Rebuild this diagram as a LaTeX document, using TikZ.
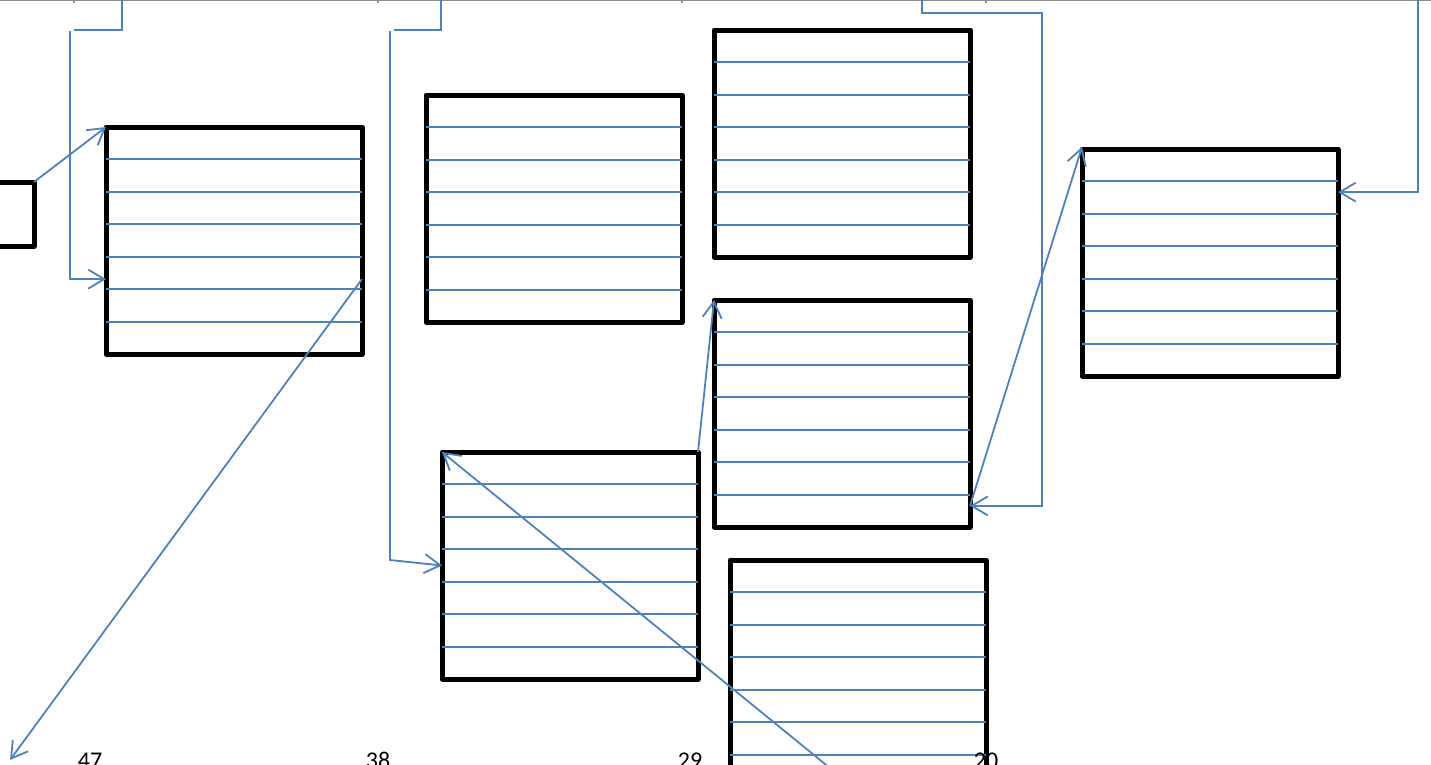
\documentclass[tikz,border=0pt]{standalone}
\usepackage{fontspec}
\setmainfont{Carlito}
\usetikzlibrary{arrows.meta, calc}
\definecolor{linkblue}{RGB}{79,129,189}
\definecolor{rulegray}{RGB}{140,140,140}

% six row lines inside a block
\newcommand{\rowlines}[1]{%
  \foreach \k in {1,...,6}
    \draw[rowline] ($(#1.north west)!\k/7!(#1.south west)$) --
                   ($(#1.north east)!\k/7!(#1.south east)$);}

\begin{document}
\begin{tikzpicture}[
  x=1pt, y=-1pt,
  block/.style={draw, line width=5pt, line join=round, inner sep=0pt,
                outer sep=0pt, anchor=north west,
                minimum width=256pt, minimum height=227pt},
  stub/.style={draw, line width=5pt, line join=round, inner sep=0pt,
               outer sep=0pt, anchor=north east,
               minimum width=64pt, minimum height=64pt},
  rowline/.style={linkblue, line width=2pt},
  wire/.style={linkblue, line width=1.8pt},
  conn/.style={wire, -{Straight Barb[length=16pt, width=19pt, line width=1.8pt]}},
  lbl/.style={font=\fontsize{24}{28}\selectfont, anchor=base}
]
  \useasboundingbox (0,0) rectangle (1431,764);
  \clip (0,0) rectangle (1431,764);

  % ruler on top
  \draw[rulegray, line width=1.5pt] (0,0.5) -- (1431,0.5);
  \foreach \t in {74,378,682,986}
    \draw[rulegray, line width=2pt] (\t,0) -- (\t,2.5);

  % blocks
  \node[stub]  (src)  at (34,182)   {};
  \node[block] (blkA) at (106,127)  {};
  \node[block] (blkB) at (426,95)   {};
  \node[block] (blkC) at (714,30)   {};
  \node[block] (blkD) at (714,300)  {};
  \node[block] (blkE) at (442,452)  {};
  \node[block] (blkF) at (730,560)  {};
  \node[block] (blkG) at (1082,149) {};
  \foreach \b in {blkA,blkB,blkC,blkD,blkE,blkF,blkG}
    {\rowlines{\b}}

  % free ends and ports
  \coordinate (topA) at (122,0);
  \coordinate (topB) at (441,0);
  \coordinate (topC) at (922,0);
  \coordinate (topG) at (1418,0);
  \coordinate (aIn)  at ($(blkA.north west)!0.67!(blkA.south west)$);
  \coordinate (aOut) at ($(blkA.north east)!0.67!(blkA.south east)$);
  \coordinate (dIn)  at ($(blkD.north east)!0.907!(blkD.south east)$);
  \coordinate (gIn)  at ($(blkG.north east)!0.19!(blkG.south east)$);
  \coordinate (low)  at (10,760);
  \coordinate (eOut) at (868,799);

  % connectors
  \draw[conn] (src.north east) -- (blkA.north west);
  \draw[wire] (topA) |- (74,30);
  \draw[conn] (70,31) |- (aIn);
  \draw[wire] (topB) |- (394,30);
  \draw[conn] (390,31) -- (390,560) -- (blkE.west);
  \draw[conn] (aOut) -- (low);
  \draw[conn] (eOut) -- (blkE.north west);
  \draw[conn] (blkE.north east) -- (blkD.north west);
  \draw[conn] (topC) |- (1042,13) |- (dIn);
  \draw[conn] (dIn) -- ($(blkG.north west)+(0,-2)$);
  \draw[conn] (topG) |- (gIn);

  % axis labels
  \node[lbl] (l47) at (90,768)  {47};
  \node[lbl] (l38) at (378,768) {38};
  \node[lbl] (l29) at (690,768) {29};
  \node[lbl] (l20) at (986,768) {20};
\end{tikzpicture}
\end{document}
